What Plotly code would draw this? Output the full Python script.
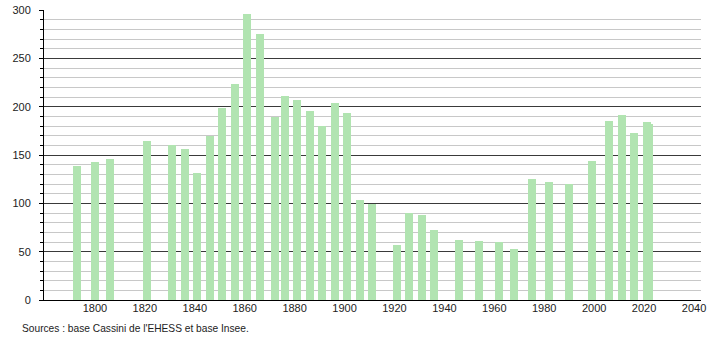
import plotly.graph_objects as go

years = [1793, 1800, 1806, 1821, 1831, 1836, 1841, 1846, 1851, 1856, 1861, 1866,
         1872, 1876, 1881, 1886, 1891, 1896, 1901, 1906, 1911, 1921, 1926, 1931,
         1936, 1946, 1954, 1962, 1968, 1975, 1982, 1990, 1999, 2006, 2011, 2016,
         2021, 2022]
population = [139, 143, 146, 164, 160, 156, 131, 170, 199, 223, 296, 275,
              189, 211, 207, 196, 180, 204, 193, 103, 99, 57, 90, 88,
              72, 62, 61, 60, 53, 125, 122, 120, 144, 185, 191, 173,
              184, 182]
x_ticks = [1800, 1820, 1840, 1860, 1880, 1900, 1920, 1940, 1960, 1980, 2000, 2020, 2040]
source_text = "Sources : base Cassini de l'EHESS et base Insee."

fig = go.Figure()
fig.add_trace(go.Bar(
    x=years, y=population, width=3.2,
    marker=dict(color="#b1e4b1", line=dict(width=0)),
    hoverinfo="x+y",
))

fig.update_layout(
    width=710, height=340,
    margin=dict(l=44, r=9, t=10, b=40, autoexpand=False),
    paper_bgcolor="white", plot_bgcolor="white",
    font=dict(family="Liberation Sans, Arial, sans-serif", size=11, color="#222"),
    showlegend=False,
    bargap=0,
    xaxis=dict(
        range=[1779.6, 2042.8], automargin=False,
        tickmode="array", tickvals=x_ticks,
        showgrid=False, zeroline=False,
        showline=True, linecolor="#000", linewidth=1,
        ticks="", ticklabelstandoff=-2,
    ),
    yaxis=dict(
        range=[0, 300], dtick=50, tick0=0, automargin=False,
        showgrid=True, gridcolor="#3a3a3a", gridwidth=1,
        zeroline=False,
        showline=True, linecolor="#000", linewidth=1,
        ticks="outside", ticklen=4, tickcolor="#000",
        ticklabelstandoff=6,
        minor=dict(dtick=10, showgrid=True, gridcolor="#c8c8c8", gridwidth=1,
                   ticks="outside", ticklen=3, tickcolor="#000"),
    ),
    annotations=[dict(
        text=source_text, xref="paper", yref="paper",
        x=-24/657, y=-28/290, xanchor="left", yanchor="middle",
        showarrow=False, font=dict(size=10.2, color="#222"),
    )],
)

fig.write_html("out.html")
